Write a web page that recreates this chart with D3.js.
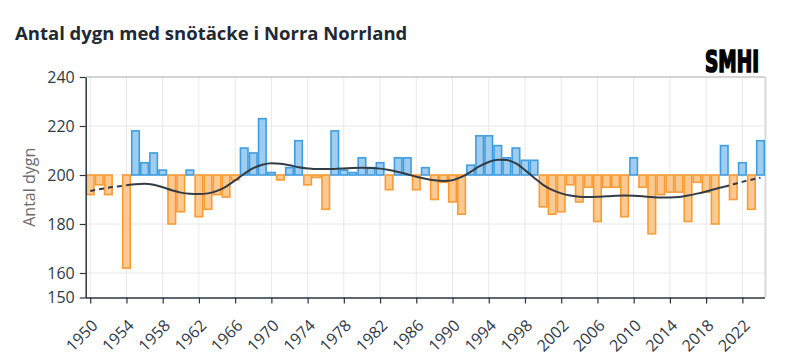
<!DOCTYPE html>
<html><head><meta charset="utf-8">
<script src="https://cdn.jsdelivr.net/npm/d3@7"></script>
<style>
html,body{margin:0;padding:0;background:#fff;}
svg{display:block;font-family:"Open Sans","Noto Sans",sans-serif;}
</style></head>
<body>
<svg id="chart" width="789" height="359"></svg>
<script>
const years = [1950,1951,1952,1953,1954,1955,1956,1957,1958,1959,1960,1961,1962,1963,1964,1965,1966,1967,1968,1969,
1970,1971,1972,1973,1974,1975,1976,1977,1978,1979,1980,1981,1982,1983,1984,1985,1986,1987,1988,1989,
1990,1991,1992,1993,1994,1995,1996,1997,1998,1999,2000,2001,2002,2003,2004,2005,2006,2007,2008,2009,
2010,2011,2012,2013,2014,2015,2016,2017,2018,2019,2020,2021,2022,2023,2024];
const days = [192,196,192,200,162,218,205,209,202,180,185,202,183,186,192,191,198,211,209,223,
201,198,203,214,196,199,186,218,202,201,207,203,205,194,207,207,194,203,190,197,
189,184,204,216,216,212,207,211,206,206,187,184,185,196,189,195,181,195,195,183,
207,195,176,192,193,193,181,197,193,180,212,190,205,186,214];
const trend = [193.5,194.2,194.8,195.3,195.8,196.2,196.4,196.0,195.0,193.8,192.8,192.3,192.2,192.5,193.5,195.3,197.8,200.5,202.8,204.2,
204.8,204.6,204.0,203.2,202.7,202.4,202.4,202.5,202.7,202.9,203.0,202.9,202.6,202.0,201.2,200.3,199.3,198.5,197.9,197.6,
197.9,199.2,201.3,203.6,205.3,206.2,206.1,204.7,202.0,198.9,196.0,193.9,192.5,191.6,191.1,191.0,191.1,191.3,191.5,191.6,
191.5,191.3,191.0,190.8,190.8,191.0,191.6,192.4,193.3,194.3,195.2,196.2,197.2,198.1,198.9];
const xTicks = [1950,1954,1958,1962,1966,1970,1974,1978,1982,1986,1990,1994,1998,2002,2006,2010,2014,2018,2022];
const yTicks = [150,160,180,200,220,240];
const yGrid = [160,180,200,220];
const baseline = 200;
const dashedStartEnd = 1954;
const dashedEndStart = 2020;
const titleText = "Antal dygn med snötäcke i Norra Norrland";
const yTitle = "Antal dygn";

const data = years.map((y,i)=>({year:y, v:days[i], t:trend[i]}));

const svg = d3.select("#chart");
const L=85.7, R=765, T=77, B=297.5;
const x = d3.scaleLinear().domain([1949.5,2024.5]).range([L,R]);
const y = d3.scaleLinear().domain([150,240]).range([B,T]);
const bw = x(1951)-x(1950);

// grid
svg.append("g").selectAll("line").data(xTicks).join("line")
  .attr("x1",d=>x(d)).attr("x2",d=>x(d)).attr("y1",T).attr("y2",B)
  .attr("stroke","#e8e8e8").attr("stroke-width",1);
svg.append("g").selectAll("line").data(yGrid).join("line")
  .attr("x1",L).attr("x2",R).attr("y1",d=>y(d)).attr("y2",d=>y(d))
  .attr("stroke","#e8e8e8").attr("stroke-width",1);

// frame top and right
svg.append("line").attr("x1",L).attr("x2",R).attr("y1",T).attr("y2",T).attr("stroke","#aaaaaa").attr("stroke-width",1);
svg.append("line").attr("x1",R+0.5).attr("x2",R+0.5).attr("y1",T).attr("y2",B).attr("stroke","#d9d9d9").attr("stroke-width",2);

// bars
const above = d=>d.v>baseline;
svg.append("g").selectAll("rect").data(data).join("rect")
  .attr("x",d=>x(d.year)-bw/2+0.75)
  .attr("width",bw-1.5)
  .attr("y",d=>Math.min(y(d.v),y(baseline)))
  .attr("height",d=>Math.abs(y(d.v)-y(baseline)))
  .attr("fill",d=>above(d)?"#9fcdef":"#fcc992")
  .attr("stroke",d=>above(d)?"#3f9de0":"#f89c33")
  .attr("stroke-width",1.6);

// trend
const line = d3.line().x(d=>x(d.year)).y(d=>y(d.t)).curve(d3.curveMonotoneX);
const mid = data.filter(d=>d.year>=dashedStartEnd && d.year<=dashedEndStart);
const left = data.filter(d=>d.year<=dashedStartEnd);
const right = data.filter(d=>d.year>=dashedEndStart);
svg.append("path").attr("d",line(mid)).attr("fill","none").attr("stroke","#333c45").attr("stroke-width",2);
[left,right].forEach(seg=>{
  svg.append("path").attr("d",line(seg)).attr("fill","none").attr("stroke","#333c45")
    .attr("stroke-width",2).attr("stroke-dasharray","5,4");
});

// axes
const xAxis = d3.axisBottom(x).tickValues(xTicks).tickFormat(d3.format("d")).tickSize(6).tickSizeOuter(0);
const gx = svg.append("g").attr("transform",`translate(0,${B})`).call(xAxis);
gx.select(".domain").attr("stroke","#2a3540").attr("stroke-width",1.5).attr("d",`M${L},0.5H${R}`);
gx.selectAll(".tick line").attr("stroke","#2a3540").attr("stroke-width",1.2);
gx.selectAll(".tick text").attr("font-size",16).attr("fill","#2f3a45")
  .attr("font-family","'Open Sans',sans-serif")
  .attr("text-anchor","end").attr("dy",null).attr("y",null)
  .attr("transform","translate(8,29) rotate(-45)");

const yAxis = d3.axisLeft(y).tickValues(yTicks).tickSize(6).tickSizeOuter(0);
const gy = svg.append("g").attr("transform",`translate(${L},0)`).call(yAxis);
gy.select(".domain").attr("stroke","#2a3540").attr("stroke-width",1.5);
gy.selectAll(".tick line").attr("stroke","#2a3540").attr("stroke-width",1.2);
gy.selectAll(".tick text").attr("font-size",16).attr("fill","#2f3a45")
  .attr("font-family","'Open Sans',sans-serif").attr("x",-11);

// titles
svg.append("text").attr("x",15).attr("y",40).text(titleText)
  .attr("font-size",18.5).attr("font-weight",700).attr("fill","#1f2933")
  .attr("font-family","'Open Sans',sans-serif");
svg.append("text").attr("transform",`translate(35,${(T+B)/2}) rotate(-90)`)
  .attr("text-anchor","middle").text(yTitle)
  .attr("font-size",16).attr("fill","#6b6b6b").attr("font-family","'Open Sans',sans-serif");

// logo
svg.append("text").attr("x",705).attr("y",72).text("SMHI")
  .attr("font-size",30).attr("font-weight",900).attr("fill","#000")
  .attr("stroke","#000").attr("stroke-width",1.6)
  .attr("font-family","'DejaVu Sans Condensed','DejaVu Sans',sans-serif")
  .attr("textLength",54).attr("lengthAdjust","spacingAndGlyphs");
</script>
</body></html>
